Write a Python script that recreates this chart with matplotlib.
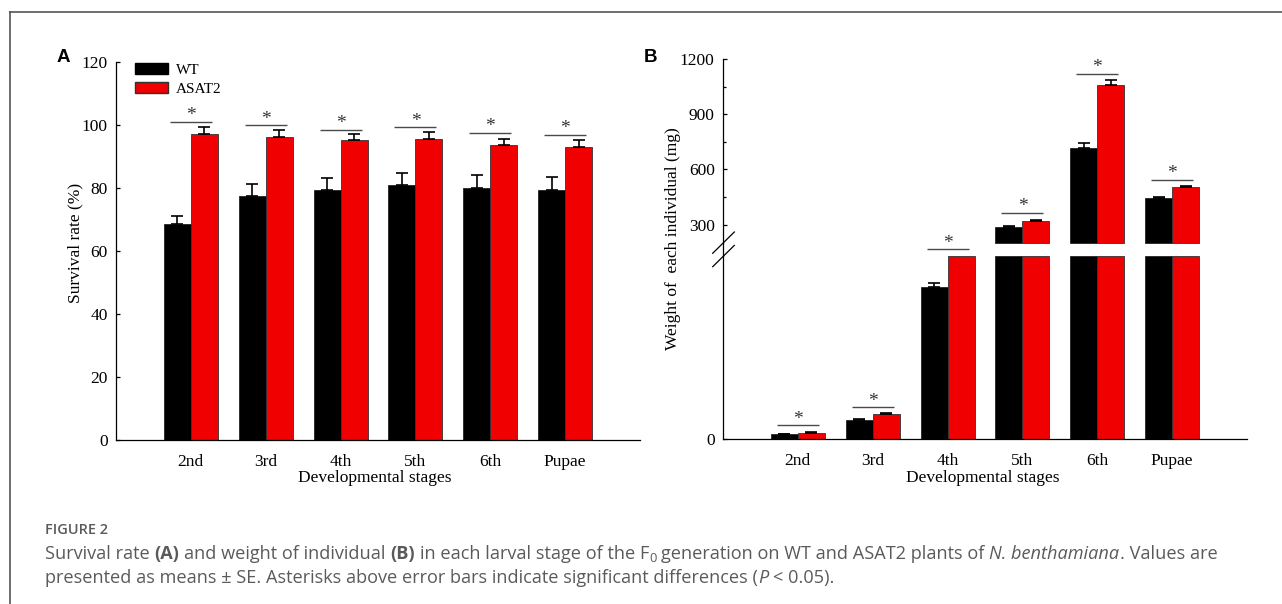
import matplotlib
matplotlib.use('Agg')
import matplotlib.pyplot as plt
from matplotlib.lines import Line2D
from matplotlib.patches import Patch
import numpy as np

W, H, DPI = 1282, 604, 100

# ---------------- data ----------------
stages = ['2nd', '3rd', '4th', '5th', '6th', 'Pupae']
series = ['WT', 'ASAT2']

surv_wt = [68.5, 77.5, 79.4, 80.9, 80.1, 79.5]
surv_wt_se = [2.7, 3.8, 3.8, 3.8, 3.9, 4.1]
surv_asat = [97.3, 96.2, 95.1, 95.4, 93.8, 93.1]
surv_asat_se = [2.0, 2.1, 1.9, 2.5, 1.9, 2.1]
surv_sig = [101.1, 100.0, 98.5, 99.4, 97.5, 96.9]

wt_weight = [5.1, 20.8, 166, 287, 719, 447]
wt_weight_se = [0.7, 0.7, 5, 6, 22, 5]
asat_weight = [6.2, 27.3, 200, 318, 1060, 507]
asat_weight_se = [1.0, 0.8, 0, 7, 27, 3]
weight_sig = [14.9, 34.6, 207.7, 365, 1120, 545]

surv_ticks = [0, 20, 40, 60, 80, 100, 120]
weight_ticks_upper = [300, 600, 900, 1200]
weight_minor_upper = [450, 750, 1050]
lower_max, upper_min, upper_max = 200, 200, 1200

RED = '#f00000'
plt.rcParams['font.family'] = 'Liberation Serif'

fig = plt.figure(figsize=(W / DPI, H / DPI), dpi=DPI)


def rect(l, t, r, b):
    return [l / W, 1 - b / H, (r - l) / W, (b - t) / H]


def fx(x):
    return x / W


def fy(y):
    return 1 - y / H


x = np.arange(1, len(stages) + 1)
bw = 0.36
TICKFS = 12.5


def stars(ax, xs, ys, clip=True):
    ax.hlines(ys, xs - 0.28, xs + 0.28, color='#4a4a4a', lw=1.0, clip_on=clip)
    for xi, yi in zip(xs, ys):
        ax.annotate('*', (xi, yi), xytext=(0, 1.0), textcoords='offset points',
                    ha='center', va='baseline', fontsize=14, color='#333333',
                    annotation_clip=False)


def errs(ax, xs, vals, se, color='black'):
    xs = np.asarray(xs)
    ax.errorbar(xs, vals, yerr=[np.zeros(len(vals)), se], fmt='none',
                ecolor=color, elinewidth=1.2, capsize=4, capthick=1.2)


# ---------------- panel A ----------------
axA = fig.add_axes(rect(116, 62, 640, 440))
axA.bar(x - bw / 2, surv_wt, bw, color='black', edgecolor='#222222', lw=0.6, zorder=2)
axA.bar(x + bw / 2, surv_asat, bw, color=RED, edgecolor='#333333', lw=0.6, zorder=2)
errs(axA, x - bw / 2, surv_wt, surv_wt_se)
errs(axA, x + bw / 2, surv_asat, surv_asat_se)
stars(axA, x + 0.0, np.array(surv_sig))
axA.set_xlim(0, 7)
axA.set_ylim(0, 120)
axA.set_yticks(surv_ticks)
axA.set_xticks(x)
axA.set_xticklabels(stages)
for s in ['top', 'right']:
    axA.spines[s].set_visible(False)
for s in ['left', 'bottom']:
    axA.spines[s].set_linewidth(0.9)
axA.tick_params(axis='y', direction='in', length=3.2, width=0.9, labelsize=TICKFS, pad=6)
axA.tick_params(axis='x', length=0, labelsize=TICKFS, pad=10)
axA.legend(handles=[Patch(facecolor='black', edgecolor='black'),
                    Patch(facecolor=RED, edgecolor='#333333')],
           labels=series, loc='upper left', bbox_to_anchor=(0.036, 0.997),
           frameon=False, fontsize=11, handlelength=2.15, handleheight=0.72,
           labelspacing=0.35, handletextpad=0.55, borderpad=0, borderaxespad=0)

fig.text(fx(75), fy(243), 'Survival rate (%)', rotation=90, ha='center', va='center', fontsize=TICKFS)
fig.text(fx(375), fy(478), 'Developmental stages', ha='center', va='center', fontsize=TICKFS)

# ---------------- panel B (broken axis) ----------------
axBu = fig.add_axes(rect(723, 59, 1247, 243))
axBl = fig.add_axes(rect(723, 256, 1247, 439))

wt = np.array(wt_weight, dtype=float)
asat = np.array(asat_weight, dtype=float)
wt_se = np.array(wt_weight_se, dtype=float)
asat_se = np.array(asat_weight_se, dtype=float)

# lower segment
axBl.bar(x - bw / 2, np.minimum(wt, lower_max), bw, color='black', edgecolor='#222222', lw=0.6, clip_on=False, zorder=2)
axBl.bar(x + bw / 2, np.minimum(asat, lower_max), bw, color=RED, edgecolor='#333333', lw=0.6, clip_on=False, zorder=2)
m = wt < lower_max
errs(axBl, (x - bw / 2)[m], wt[m], wt_se[m])
m = asat < lower_max
errs(axBl, (x + bw / 2)[m], asat[m], asat_se[m])

# upper segment
mu = wt > upper_min
axBu.bar((x - bw / 2)[mu], wt[mu] - upper_min, bw, bottom=upper_min, color='black', edgecolor='#222222', lw=0.6, clip_on=False, zorder=2)
errs(axBu, (x - bw / 2)[mu], wt[mu], wt_se[mu])
mu = asat > upper_min
axBu.bar((x + bw / 2)[mu], asat[mu] - upper_min, bw, bottom=upper_min, color=RED, edgecolor='#333333', lw=0.6, clip_on=False, zorder=2)
errs(axBu, (x + bw / 2)[mu], asat[mu], asat_se[mu])

sig = np.array(weight_sig, dtype=float)
ml = sig < 300
stars(axBl, x[ml] + 0.0, sig[ml], clip=False)
stars(axBu, x[~ml] + 0.0, sig[~ml])

for ax in (axBu, axBl):
    ax.set_xlim(0, 7)
    for s in ['top', 'right']:
        ax.spines[s].set_visible(False)
    ax.spines['left'].set_linewidth(0.9)
axBu.spines['bottom'].set_visible(False)
axBl.spines['bottom'].set_linewidth(0.9)
axBu.set_ylim(upper_min, upper_max)
axBu.set_yticks(weight_ticks_upper)
axBu.set_yticks(weight_minor_upper, minor=True)
axBu.set_xticks([])
axBu.tick_params(axis='y', which='major', direction='in', length=3.2, width=0.9, labelsize=TICKFS, pad=6)
axBu.tick_params(axis='y', which='minor', direction='in', length=2.0, width=0.9)
axBl.set_ylim(0, lower_max)
axBl.set_yticks([0])
axBl.set_xticks(x)
axBl.set_xticklabels(stages)
axBl.tick_params(axis='y', direction='in', length=3.2, width=0.9, labelsize=TICKFS, pad=6)
axBl.tick_params(axis='x', length=0, labelsize=TICKFS, pad=10)

# spine link + break marks
fig.add_artist(Line2D([fx(723)] * 2, [fy(243), fy(256)], color='black', lw=0.9))
for y0 in (253.3, 266.7):
    fig.add_artist(Line2D([fx(712.7), fx(734.3)], [fy(y0), fy(y0 - 21.3)], color='black', lw=0.9))

fig.text(fx(673), fy(239), 'Weight of  each individual (mg)', rotation=90, ha='center', va='center', fontsize=TICKFS)
fig.text(fx(983), fy(478), 'Developmental stages', ha='center', va='center', fontsize=TICKFS)

# panel letters
fig.text(fx(57), fy(57), 'A', family='Liberation Sans', weight='bold', fontsize=13.5, ha='left', va='center')
fig.text(fx(644), fy(57), 'B', family='Liberation Sans', weight='bold', fontsize=13.5, ha='left', va='center')

# frame
fig.add_artist(Line2D([fx(10), 1.0], [fy(12)] * 2, color='#555555', lw=1.2))
fig.add_artist(Line2D([fx(10)] * 2, [fy(12), 0.0], color='#555555', lw=1.2))

# ---------------- caption ----------------
renderer = fig.canvas.get_renderer()
CAPC = '#5a5a5a'
CAPF = 'Open Sans'


def width_of(s, **kw):
    t = fig.text(0, 0, s, **kw)
    w = t.get_window_extent(renderer).width
    t.remove()
    return w


def draw_runs(runs, x0, yc, size, draw=True):
    xcur = x0
    for s, style in runs:
        kw = dict(family=CAPF, color=CAPC, fontsize=size)
        if style == 'b':
            kw['weight'] = 'bold'
        elif style == 'i':
            kw['style'] = 'italic'
        elif style == 'sub':
            kw['fontsize'] = size * 0.72
        sp = width_of('a a', **kw) - width_of('aa', **kw)
        lead = len(s) - len(s.lstrip(' '))
        trail = len(s) - len(s.rstrip(' '))
        core = s.strip(' ')
        xcur += lead * sp
        yy = yc + (4 if style == 'sub' else 0)
        if core:
            if draw:
                t = fig.text(fx(xcur), fy(yy), core, va='center', ha='left', **kw)
                xcur += t.get_window_extent(renderer).width
            else:
                xcur += width_of(core, **kw)
        xcur += trail * sp
    return xcur


line1 = [('Survival rate ', 'n'), ('(A)', 'b'), (' and weight of individual ', 'n'), ('(B)', 'b'),
         (' in each larval stage of the F', 'n'), ('0', 'sub'), (' generation on WT and ASAT2 plants of ', 'n'),
         ('N. benthamiana', 'i'), ('. Values are', 'n')]
line2 = [('presented as means \u00b1 SE. Asterisks above error bars indicate significant differences (', 'n'),
         ('P', 'i'), (' < 0.05).', 'n')]

base = 10.0
tmp_end = draw_runs(line1, 0, 0, base, draw=False)
cap_size = base * (1215 - 45) / tmp_end

fig.text(fx(45), fy(530), 'FIGURE 2', family=CAPF, weight='semibold', color=CAPC,
         fontsize=cap_size * 0.8, va='center', ha='left')
draw_runs(line1, 45, 554, cap_size)
draw_runs(line2, 45, 578, cap_size)

fig.savefig('out.png', dpi=DPI)
